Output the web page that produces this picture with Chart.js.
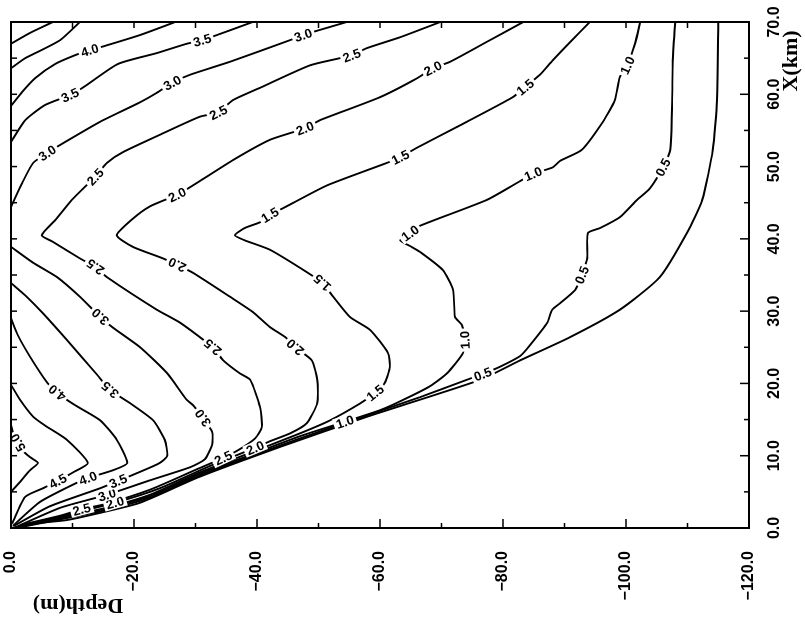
<!DOCTYPE html>
<html>
<head>
<meta charset="utf-8">
<script src="https://cdn.jsdelivr.net/npm/chart.js@4.4.1/dist/chart.umd.min.js"></script>
<style>
  html, body { margin: 0; padding: 0; background: #fff; overflow: hidden; }
  /* the figure is printed turned on its side: draw it upright, then turn the box */
  #wrap {
    position: absolute; left: 0; top: 0;
    width: 621px; height: 805px;
    transform-origin: 0 0;
    transform: translate(0, 621px) rotate(-90deg);
  }
</style>
</head>
<body>
<div id="wrap"><canvas id="chart" width="621" height="805"></canvas></div>
<script>
// points are [X (km), depth (m)], listed in the direction the contour was traced
const seabed = [[0,0],[0.7,-4.7],[1.1,-9.1],[2.1,-14.5],[3.5,-21.0],[7.1,-30.7],[11.2,-43.7],[15.4,-57.9],[20.5,-76.3],[23.2,-82.8],[26.4,-90.9],[30.2,-99.0],[34.7,-105.5],[40.8,-109.9],[45.4,-112.4],[52.3,-114.1],[59.2,-114.8],[70,-115.0]];

const iso05 = [[0.1,-1.5],[1.2,-8.0],[2.3,-14.5],[4.2,-22.6],[7.3,-30.7],[9.9,-38.9],[12.4,-47.0],[15.6,-57.9],[18.1,-66.5],[20.5,-74.1],[21.3,-76.7],[22.3,-79.5],[23.8,-82.8],[25.3,-84.4],[28.4,-87.2],[30.2,-88.0],[31.1,-89.3],[32.9,-91.7],[35.0,-92.8],[37.3,-93.7],[40.8,-93.8],[41.5,-95.8],[43.0,-99.0],[45.4,-101.8],[47.0,-103.9],[49.9,-106.0],[52.3,-107.2],[59.2,-107.5],[64.7,-107.6],[70,-108.0]];
const iso10 = [[0.2,-1.5],[1.3,-8.0],[2.5,-14.5],[4.4,-22.6],[7.5,-30.7],[10.1,-38.9],[12.7,-47.0],[14.7,-54.3],[16.3,-60.0],[17.7,-63.7],[19.6,-68.1],[21.4,-70.9],[24.2,-73.5],[26.0,-73.8],[28.1,-73.3],[29.2,-72.2],[32.9,-71.9],[35.7,-70.2],[38.2,-66.5],[39.0,-64.9],[39.8,-63.3],[40.8,-64.9],[41.8,-66.5],[45.4,-77.4],[48.0,-82.8],[49.0,-84.9],[49.9,-88.1],[50.8,-89.3],[52.3,-92.8],[56.0,-96.1],[59.2,-98.2],[62.4,-99.0],[64.0,-100.2],[67.1,-101.5],[70,-102.3]];
const iso15 = [[0.3,-1.5],[1.5,-8.0],[2.6,-14.5],[4.6,-22.6],[7.7,-30.7],[10.4,-38.9],[13.1,-47.0],[14.9,-51.9],[17.2,-56.7],[18.7,-59.2],[20.1,-60.8],[22.3,-61.6],[24.2,-61.3],[27.4,-58.4],[29.2,-55.1],[32.2,-52.2],[33.9,-50.6],[35.4,-48.1],[38.5,-42.1],[39.8,-38.0],[40.5,-36.4],[41.5,-38.0],[42.3,-40.5],[43.3,-42.1],[44.4,-44.6],[47.4,-51.4],[50.5,-61.1],[51.3,-63.3],[52.6,-66.0],[55.7,-73.0],[59.6,-81.6],[61.0,-83.6],[62.7,-86.0],[64.7,-88.1],[67.2,-90.9],[70,-94.1]];
const iso20 = [[0.3,-1.5],[1.6,-8.0],[3.5,-16.9],[5.5,-24.2],[8.6,-32.4],[11.1,-39.7],[12.0,-42.1],[13.1,-45.4],[14.5,-48.1],[17.3,-49.8],[20.5,-49.8],[23.2,-48.9],[25.0,-46.2],[26.4,-44.6],[27.8,-42.1],[29.9,-39.3],[32.0,-35.6],[35.3,-29.6],[36.4,-27.0],[37.3,-24.7],[38.9,-19.8],[40.5,-17.2],[42.7,-19.7],[44.5,-22.6],[46.1,-27.0],[47.4,-29.6],[50.9,-36.1],[53.7,-42.1],[55.3,-47.8],[56.4,-50.2],[59.6,-60.0],[62.2,-66.0],[63.6,-68.6],[64.5,-71.4],[67.5,-77.9],[70,-83.3]];
const iso25 = [[0.4,-1.5],[1.7,-8.0],[2.6,-11.5],[3.3,-15.3],[5.3,-22.6],[8.3,-30.7],[9.7,-34.5],[10.9,-37.2],[12.4,-39.7],[14.0,-40.8],[16.7,-40.5],[20.5,-38.9],[21.4,-37.2],[23.2,-34.5],[25.0,-32.8],[28.4,-27.5],[30.2,-23.7],[34.7,-15.6],[36.1,-13.7],[37.3,-11.2],[39.6,-6.8],[40.5,-5.0],[42.6,-7.2],[45.4,-9.9],[48.6,-13.7],[50.5,-15.6],[52.0,-18.2],[54.4,-24.2],[56.9,-30.7],[57.5,-33.7],[59.2,-36.1],[60.9,-40.5],[64.0,-48.6],[65.0,-53.5],[65.4,-55.4],[66.4,-57.9],[67.9,-63.3],[70,-69.8]];
const iso30lo = [[0.1,-0.7],[2.8,-8.0],[4.6,-15.6],[6.6,-22.6],[8.4,-29.1],[9.5,-31.5],[11.5,-32.7],[13.3,-32.7],[15.2,-31.2],[17.0,-29.6],[17.7,-28.6],[21.4,-25.4],[25.0,-21.0],[27.7,-16.6],[29.2,-14.5],[32.0,-11.2],[34.7,-7.5],[36.7,-3.6],[38.9,0]];
const iso30up = [[44.4,0],[47.7,-1.8],[50.5,-3.6],[51.9,-5.9],[53.0,-8.0],[56.2,-14.5],[58.9,-21.0],[60.2,-23.7],[61.6,-26.2],[62.7,-29.1],[64.5,-35.6],[67.5,-45.4],[68.2,-47.5],[68.9,-50.2],[70,-54.6]];
const iso35lo = [[0.3,-0.5],[3.0,-6.3],[5.5,-14.5],[6.5,-17.4],[7.6,-20.5],[9.0,-24.2],[10.0,-25.4],[12.2,-25.0],[14.9,-23.1],[17.3,-19.3],[19.1,-16.1],[21.2,-14.0],[26.0,-9.1],[29.7,-5.2],[32.2,-2.3],[33.9,0]];
const iso35up = [[53.4,0],[56.4,-2.3],[58.5,-5.5],[59.9,-9.6],[61.1,-12.0],[64.2,-17.4],[65.7,-23.7],[67.0,-28.6],[67.5,-31.1],[68.2,-33.5],[70,-39.3]];
const iso40lo = [[0.3,-0.3],[3.6,-4.7],[5.8,-9.6],[6.9,-12.5],[8.0,-16.6],[9.0,-18.9],[12.2,-17.2],[14.9,-14.5],[17.0,-10.4],[18.7,-7.5],[20.1,-5.9],[23.7,-3.1],[26.7,-1.1],[29.0,0]];
const iso40up = [[58.4,0],[60.3,-1.8],[62.2,-3.9],[64.2,-7.2],[65.4,-10.4],[66.1,-12.8],[66.7,-15.3],[68.2,-21.0],[70,-26.7]];
const iso45lo = [[0.6,-0.2],[4.3,-2.3],[5.5,-5.2],[6.5,-7.6],[7.7,-10.1],[9.0,-12.5],[12.2,-9.1],[14.2,-5.5],[15.4,-3.6],[17.7,-1.5],[19.8,0]];
const iso45up = [[63.6,0],[65.0,-2.3],[66.0,-4.7],[67.5,-8.0],[70,-11.2]];
const iso50lo = [[5.0,0],[6.4,-1.5],[8.0,-3.1],[9.0,-4.4],[9.8,-3.1],[10.8,-1.8],[11.8,-1.1],[12.7,-0.5],[14.2,0]];
const iso50up = [[67.0,0],[68.5,-3.1],[70,-6.8]];

const kmTicks = [0, 10, 20, 30, 40, 50, 60, 70];
const depthTicks = [-120, -100, -80, -60, -40, -20, 0];

// level text and which points carry a label
const contours = [
    { level: '0.5', pts: iso05, at: [10, 18, 25] },
    { level: '1.0', pts: iso10, at: [7, 13, 21, 25, 32] },
    { level: '1.5', pts: iso15, at: [9, 16, 23, 27, 31] },
    { level: '2.0', pts: iso20, at: [2, 5, 12, 18, 24, 28, 32] },
    { level: '2.5', pts: iso25, at: [2, 6, 14, 18, 24, 29, 34] },
    { level: '3.0', pts: iso30lo, at: [2, 8, 14] },
    { level: '3.0', pts: iso30up, at: [3, 8, 12] },
    { level: '3.5', pts: iso35lo, at: [3, 10] },
    { level: '3.5', pts: iso35up, at: [3, 8] },
    { level: '4.0', pts: iso40lo, at: [3, 9] },
    { level: '4.0', pts: iso40up, at: [5] },
    { level: '4.5', pts: iso45lo, at: [3] },
    { level: '4.5', pts: iso45up, at: [] },
    { level: '5.0', pts: iso50lo, at: [6] },
    { level: '5.0', pts: iso50up, at: [] }
];

const tickFont = { family: '"Liberation Sans", Arial, sans-serif', size: 16, weight: 'bold' };

function fmt(v) {
    return (v < 0 ? '\u2212' : '') + Math.abs(v).toFixed(1);
}

/**
 * Contour labels, frame, inward ticks and the two axis titles
 */
const isoDecor = {
    id: 'isoDecor',
    afterDatasetsDraw(chart) {
        const { ctx, chartArea: a, scales: { x, y } } = chart;
        const px = p => [x.getPixelForValue(p[0]), y.getPixelForValue(p[1])];

        ctx.save();
        ctx.font = 'bold 13px "Liberation Sans", Arial, sans-serif';
        ctx.textAlign = 'center';
        ctx.textBaseline = 'middle';
        contours.forEach(c => {
            c.at.forEach(k => {
                const [cx, cy] = px(c.pts[k]);
                const [ax, ay] = px(c.pts[k - 1]);
                const [bx, by] = px(c.pts[k + 1]);
                const w = ctx.measureText(c.level).width + 5;
                ctx.save();
                ctx.translate(cx, cy);
                ctx.rotate(Math.atan2(by - ay, bx - ax));
                ctx.fillStyle = '#fff';
                ctx.fillRect(-w / 2, -6, w, 12);
                ctx.fillStyle = '#000';
                ctx.fillText(c.level, 0, 1);
                ctx.restore();
            });
        });

        // frame
        ctx.strokeStyle = '#000';
        ctx.lineWidth = 2;
        ctx.strokeRect(a.left, a.top, a.right - a.left, a.bottom - a.top);

        // ticks point into the plot
        ctx.lineWidth = 1.5;
        ctx.beginPath();
        for (let km = 0; km <= 70; km += 5) {
            const p = x.getPixelForValue(km);
            const len = km % 10 === 0 ? 9 : 5;
            ctx.moveTo(p, a.bottom); ctx.lineTo(p, a.bottom - len);
            ctx.moveTo(p, a.top); ctx.lineTo(p, a.top + 6);
        }
        for (let d = 0; d >= -120; d -= 10) {
            const p = y.getPixelForValue(d);
            const len = d % 20 === 0 ? 9 : 5;
            ctx.moveTo(a.left, p); ctx.lineTo(a.left + len, p);
            ctx.moveTo(a.right, p); ctx.lineTo(a.right - 6, p);
        }
        ctx.stroke();
        ctx.restore();
    },
    afterDraw(chart) {
        const { ctx } = chart;
        ctx.save();
        ctx.fillStyle = '#000';
        ctx.font = 'bold 22px "Liberation Serif", "Times New Roman", serif';
        ctx.textAlign = 'center';
        ctx.textBaseline = 'alphabetic';
        ctx.fillText('X(km)', 560, 797);
        ctx.translate(22, 78);
        ctx.rotate(-Math.PI / 2);
        ctx.fillText('Depth(m)', 0, 0);
        ctx.restore();
    }
};

const datasets = [{ pts: seabed }].concat(contours).map(c => ({
    data: c.pts.map(p => ({ x: p[0], y: p[1] })),
    showLine: true,
    borderColor: '#000',
    borderWidth: 1.9,
    pointRadius: 0,
    fill: false,
    tension: 0.2
}));

new Chart(document.getElementById('chart'), {
    type: 'scatter',
    data: { datasets },
    options: {
        responsive: false,
        animation: false,
        devicePixelRatio: 1,
        events: [],
        layout: { padding: { top: 11, right: 22, left: 0, bottom: 0 } },
        plugins: {
            legend: { display: false },
            tooltip: { enabled: false }
        },
        scales: {
            x: {
                type: 'linear',
                position: 'bottom',
                min: 0,
                max: 70,
                afterFit: s => { s.height = 56; s.paddingLeft = 0; s.paddingRight = 0; },
                afterBuildTicks: s => { s.ticks = kmTicks.map(v => ({ value: v })); },
                grid: { display: false },
                border: { display: false },
                ticks: {
                    autoSkip: false,
                    maxRotation: 0,
                    padding: 8,
                    color: '#000',
                    font: tickFont,
                    callback: fmt
                }
            },
            y: {
                type: 'linear',
                min: -120,
                max: 0,
                afterFit: s => { s.width = 93; s.paddingTop = 0; s.paddingBottom = 0; },
                afterBuildTicks: s => { s.ticks = depthTicks.map(v => ({ value: v })); },
                grid: { display: false },
                border: { display: false },
                ticks: {
                    autoSkip: false,
                    padding: 15,
                    color: '#000',
                    font: tickFont,
                    callback: fmt
                }
            }
        }
    },
    plugins: [isoDecor]
});
</script>
</body>
</html>
